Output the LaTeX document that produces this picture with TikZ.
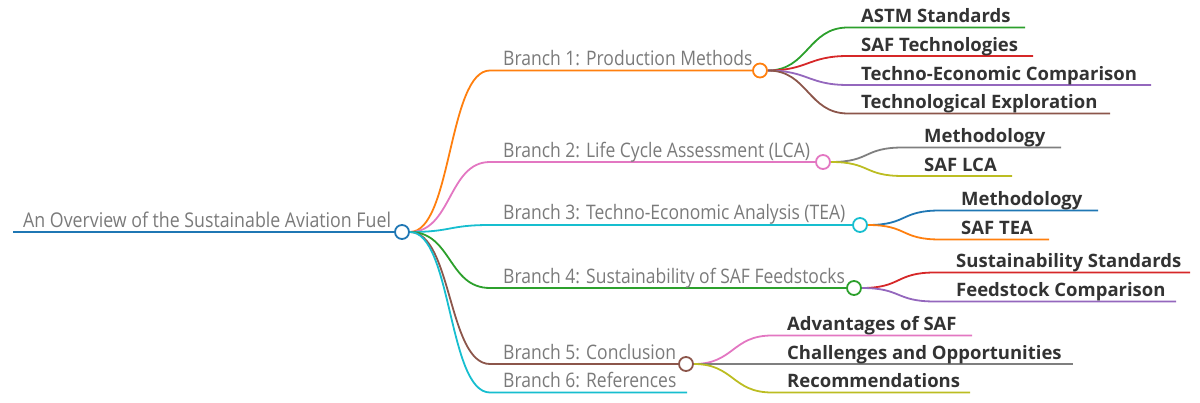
\documentclass[tikz,border=0pt]{standalone}
\usepackage{fontspec}
\setmainfont{Open Sans}
\newfontfamily\brfont[FakeStretch=0.875]{Open Sans}
\newfontfamily\lffont{Open Sans}
\usetikzlibrary{calc}
\pgfdeclarelayer{bg}
\pgfsetlayers{bg,main}
\definecolor{tblue}{HTML}{1F77B4}
\definecolor{torange}{HTML}{FF7F0E}
\definecolor{tgreen}{HTML}{2CA02C}
\definecolor{tred}{HTML}{D62728}
\definecolor{tpurple}{HTML}{9467BD}
\definecolor{tbrown}{HTML}{8C564B}
\definecolor{tpink}{HTML}{E377C2}
\definecolor{tgray}{HTML}{7F7F7F}
\definecolor{tolive}{HTML}{BCBD22}
\definecolor{tcyan}{HTML}{17BECF}
\definecolor{txtgray}{HTML}{7A7A7A}
\definecolor{txtdark}{HTML}{333333}
\begin{document}
\begin{tikzpicture}[x=1pt,y=-1pt,
  brtext/.style={anchor=base west, inner sep=0pt, text=txtgray, font=\brfont\fontsize{20}{24}\selectfont},
  roottextstyle/.style={anchor=base west, inner sep=0pt, text=txtgray, font=\brfont\fontsize{20.3}{24}\selectfont},
  leaftext/.style={anchor=base west, inner sep=0pt, text=txtdark, font=\lffont\fontsize{18.5}{22}\selectfont\bfseries},
  hub/.style={circle, draw, fill=white, minimum size=14pt, inner sep=0pt, line width=1.8pt},
  conn/.style={line width=1.8pt},
]
\useasboundingbox (0,0) rectangle (1200,403);

% root
\coordinate (r0) at (13,232);
\node[hub, draw=tblue] (root) at (402,232) {};
\node[roottextstyle] (roottext) at (23,227.5) {An Overview of the Sustainable Aviation Fuel};

% branches
\node[brtext] (t1) at (503,66) {Branch 1: Production Methods};
\node[brtext] (t2) at (503,157.5) {Branch 2: Life Cycle Assessment (LCA)};
\node[brtext] (t3) at (503,220) {Branch 3: Techno-Economic Analysis (TEA)};
\node[brtext] (t4) at (503,283.5) {Branch 4: Sustainability of SAF Feedstocks};
\node[brtext] (t5) at (503,359.5) {Branch 5: Conclusion};
\node[brtext] (t6) at (503,388) {Branch 6: References};

\node[hub, draw=torange] (h1) at (760,70.5) {};
\node[hub, draw=tpink] (h2) at (823,162) {};
\node[hub, draw=tcyan] (h3) at (860,225) {};
\node[hub, draw=tgreen] (h4) at (854,288) {};
\node[hub, draw=tbrown] (h5) at (686,364) {};

\coordinate (s1) at (490,70.5);
\coordinate (s2) at (490,162);
\coordinate (s3) at (490,225);
\coordinate (s4) at (490,288);
\coordinate (s5) at (490,364);
\coordinate (s6) at (490,392.5);
\coordinate (e6) at (687,392.5);

% leaves of branch 1
\node[leaftext] (l11) at (861,23) {ASTM Standards};
\node[leaftext] (l12) at (861,51.5) {SAF Technologies};
\node[leaftext] (l13) at (861,80.5) {Techno-Economic Comparison};
\node[leaftext] (l14) at (861,109) {Technological Exploration};
\coordinate (a11) at (848,27.5);  \coordinate (b11) at (1025,27.5);
\coordinate (a12) at (848,56);    \coordinate (b12) at (1033,56);
\coordinate (a13) at (848,85);    \coordinate (b13) at (1151,85);
\coordinate (a14) at (848,113.5); \coordinate (b14) at (1110,113.5);

% leaves of branch 2
\node[leaftext] (l21) at (924,143) {Methodology};
\node[leaftext] (l22) at (924,171.5) {SAF LCA};
\coordinate (a21) at (903,147.5); \coordinate (b21) at (1061,147.5);
\coordinate (a22) at (903,176);   \coordinate (b22) at (1012,176);

% leaves of branch 3
\node[leaftext] (l31) at (961,206) {Methodology};
\node[leaftext] (l32) at (961,235) {SAF TEA};
\coordinate (a31) at (940,210.5); \coordinate (b31) at (1098,210.5);
\coordinate (a32) at (940,239.5); \coordinate (b32) at (1049,239.5);

% leaves of branch 4
\node[leaftext] (l41) at (956,268) {Sustainability Standards};
\node[leaftext] (l42) at (956,297) {Feedstock Comparison};
\coordinate (a41) at (935,272.5); \coordinate (b41) at (1190,272.5);
\coordinate (a42) at (935,301.5); \coordinate (b42) at (1176,301.5);

% leaves of branch 5
\node[leaftext] (l51) at (787,331) {Advantages of SAF};
\node[leaftext] (l52) at (787,359.5) {Challenges and Opportunities};
\node[leaftext] (l53) at (787,388) {Recommendations};
\coordinate (a51) at (772,335.5); \coordinate (b51) at (972,335.5);
\coordinate (a52) at (772,364);   \coordinate (b52) at (1073,364);
\coordinate (a53) at (772,392.5); \coordinate (b53) at (970,392.5);

\begin{pgfonlayer}{bg}
  \draw[tblue, line width=2.6pt] (r0) -- (root.west);
  \draw[conn, torange] (root.east) .. controls +(42,0) and +(-42,0) .. (s1) -- (h1.west);
  \draw[conn, tpink]   (root.east) .. controls +(42,0) and +(-42,0) .. (s2) -- (h2.west);
  \draw[conn, tcyan]   (root.east) .. controls +(42,0) and +(-42,0) .. (s3) -- (h3.west);
  \draw[conn, tgreen]  (root.east) .. controls +(42,0) and +(-42,0) .. (s4) -- (h4.west);
  \draw[conn, tbrown]  (root.east) .. controls +(42,0) and +(-42,0) .. (s5) -- (h5.west);
  \draw[conn, tcyan]   (root.east) .. controls +(42,0) and +(-42,0) .. (s6) -- (e6);

  \draw[conn, tgreen]  (h1.east) .. controls +(40,0) and +(-40,0) .. (a11) -- (b11);
  \draw[conn, tred]    (h1.east) .. controls +(40,0) and +(-40,0) .. (a12) -- (b12);
  \draw[conn, tpurple] (h1.east) .. controls +(40,0) and +(-40,0) .. (a13) -- (b13);
  \draw[conn, tbrown]  (h1.east) .. controls +(40,0) and +(-40,0) .. (a14) -- (b14);

  \draw[conn, tgray]   (h2.east) .. controls +(40,0) and +(-40,0) .. (a21) -- (b21);
  \draw[conn, tolive]  (h2.east) .. controls +(40,0) and +(-40,0) .. (a22) -- (b22);

  \draw[conn, tblue]   (h3.east) .. controls +(40,0) and +(-40,0) .. (a31) -- (b31);
  \draw[conn, torange] (h3.east) .. controls +(40,0) and +(-40,0) .. (a32) -- (b32);

  \draw[conn, tred]    (h4.east) .. controls +(40,0) and +(-40,0) .. (a41) -- (b41);
  \draw[conn, tpurple] (h4.east) .. controls +(40,0) and +(-40,0) .. (a42) -- (b42);

  \draw[conn, tpink]   (h5.east) .. controls +(40,0) and +(-40,0) .. (a51) -- (b51);
  \draw[conn, tgray]   (h5.east) -- (a52) -- (b52);
  \draw[conn, tolive]  (h5.east) .. controls +(40,0) and +(-40,0) .. (a53) -- (b53);
\end{pgfonlayer}
\end{tikzpicture}
\end{document}
